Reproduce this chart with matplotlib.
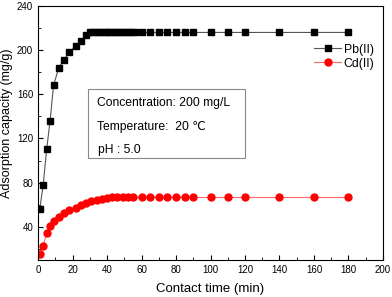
import numpy as np
import matplotlib
matplotlib.use("Agg")
import matplotlib.pyplot as plt
from matplotlib.ticker import MultipleLocator

plt.rcParams["font.family"] = ["Liberation Sans", "DejaVu Sans"]

# contact time (min) and adsorption capacity (mg/g)
pb_time = [1, 3, 5, 7, 9, 12, 15, 18, 22, 25, 28,
           30, 32, 34, 36, 38, 40, 42, 44, 46, 48, 50, 52, 54, 56,
           60, 65, 70, 75, 80, 85, 90, 100, 110, 120, 140, 160, 180]
pb_q = [56, 78, 110, 136, 168, 184, 191, 198, 204, 208, 214,
        216, 216, 216, 216, 216, 216, 216, 216, 216, 216, 216, 216, 216, 216,
        216, 216, 216, 216, 216, 216, 216, 216, 216, 216, 216, 216, 216]

cd_time = [1, 3, 5, 7, 9, 12, 15, 18, 22, 25, 28, 31, 34, 37, 40, 43, 46, 49,
           52, 55, 60, 65, 70, 75, 80, 85, 90, 100, 110, 120, 140, 160, 180]
cd_q = [15, 23, 34, 41, 45.5, 49, 52.5, 55, 57, 59.5, 61.5, 63, 64.5, 65.5,
        66, 67, 66.5, 66.5, 67, 66.5, 66.5, 66.5, 66.5, 66.5, 66.5, 66.5, 66.5,
        66.5, 66.5, 66.5, 66.5, 66.5, 66.5]


def main():
    fig = plt.figure(figsize=(3.92, 2.97), dpi=100)
    ax = fig.add_axes([0.097, 0.125, 0.88, 0.855])

    ax.plot(pb_time, pb_q, color="#555555", lw=0.8, marker="s",
            ms=4.5, mfc="black", mec="black", label="Pb(II)")
    ax.plot(cd_time, cd_q, color="#ff6666", lw=0.8, marker="o",
            ms=5, mfc="red", mec="red", label="Cd(II)")

    ax.set_xlim(0, 200)
    ax.set_ylim(10, 240)
    ax.xaxis.set_major_locator(MultipleLocator(20))
    ax.xaxis.set_minor_locator(MultipleLocator(10))
    ax.yaxis.set_major_locator(MultipleLocator(40))
    ax.yaxis.set_minor_locator(MultipleLocator(20))
    ax.tick_params(which="both", direction="in", labelsize=7)
    ax.tick_params(which="major", length=3.5)
    ax.tick_params(which="minor", length=2)

    ax.set_xlabel("Contact time (min)", fontsize=9.5)
    ax.set_ylabel("Adsorption capacity (mg/g)", fontsize=9)
    ax.xaxis.set_label_coords(0.5, -0.113)
    ax.xaxis.label.set_va("center")
    ax.yaxis.set_label_coords(-0.089, 0.54)
    ax.yaxis.label.set_va("center")

    ax.legend(loc="upper right", bbox_to_anchor=(1.0, 0.885), frameon=False,
              fontsize=8.8, handlelength=2.2, handletextpad=0.2,
              labelspacing=0.15, borderaxespad=0.3)

    # condition box
    box = plt.Rectangle((0.145, 0.40), 0.455, 0.273, transform=ax.transAxes,
                        fill=False, ec="#888888", lw=0.8)
    ax.add_patch(box)
    ax.text(0.17, 0.618, "Concentration: 200 mg/L", transform=ax.transAxes,
            fontsize=8.7, va="center")
    ax.text(0.17, 0.524, "Temperature:  20 \u2103", transform=ax.transAxes,
            fontsize=8.7, va="center")
    ax.text(0.175, 0.433, "pH : 5.0", transform=ax.transAxes,
            fontsize=8.7, va="center")

    fig.savefig("out.png", dpi=100)


if __name__ == "__main__":
    main()
